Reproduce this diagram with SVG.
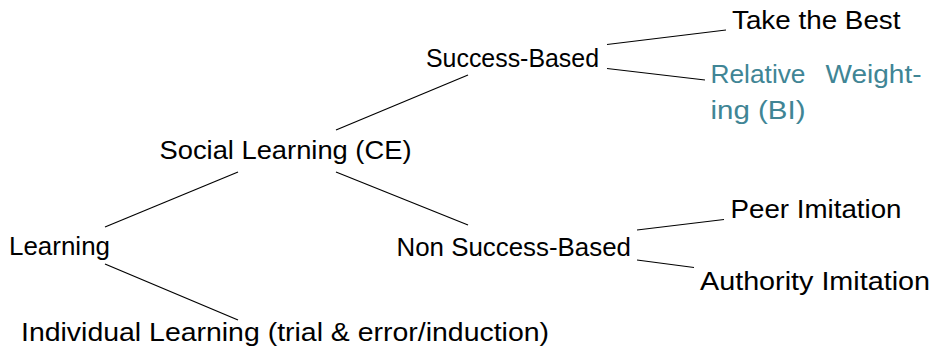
<svg xmlns="http://www.w3.org/2000/svg" width="936" height="353" viewBox="0 0 936 353">
<style>
text{font-family:"Liberation Sans",Arial,sans-serif;font-size:25px;fill:#000}
.hl{fill:#408595}
line{stroke:#000;stroke-width:1.2}
</style>
<rect width="936" height="353" fill="#fff"/>
<g id="connectors">
<line x1="105" y1="227" x2="238" y2="172"/>
<line x1="105" y1="264" x2="238" y2="320"/>
<line x1="336" y1="130" x2="468" y2="75"/>
<line x1="336" y1="172" x2="468" y2="225"/>
<line x1="607" y1="44.5" x2="726" y2="30"/>
<line x1="607" y1="68.5" x2="705" y2="80"/>
<line x1="637" y1="230" x2="724" y2="219.5"/>
<line x1="637" y1="260" x2="694" y2="267.5"/>
</g>
<g id="learning"><text x="9" y="255" textLength="101" lengthAdjust="spacingAndGlyphs">Learning</text></g>
<g id="social"><text x="159.5" y="158.5" textLength="252" lengthAdjust="spacingAndGlyphs">Social Learning (CE)</text></g>
<g id="individual"><text x="21" y="341" textLength="528" lengthAdjust="spacingAndGlyphs">Individual Learning (trial &amp; error/induction)</text></g>
<g id="success"><text x="426" y="67" textLength="173" lengthAdjust="spacingAndGlyphs">Success-Based</text></g>
<g id="nonsuccess"><text x="396.5" y="256" textLength="234.5" lengthAdjust="spacingAndGlyphs">Non Success-Based</text></g>
<g id="takebest"><text x="732" y="29" textLength="168.5" lengthAdjust="spacingAndGlyphs">Take the Best</text></g>
<g id="relative"><text class="hl" y="83"><tspan x="710.5" textLength="95" lengthAdjust="spacingAndGlyphs">Relative</tspan><tspan x="825.5" textLength="96" lengthAdjust="spacingAndGlyphs">Weight-</tspan></text><text class="hl" x="710.5" y="118.5" textLength="95" lengthAdjust="spacingAndGlyphs">ing (BI)</text></g>
<g id="peer"><text x="730.5" y="218" textLength="171" lengthAdjust="spacingAndGlyphs">Peer Imitation</text></g>
<g id="authority"><text x="700" y="290" textLength="230" lengthAdjust="spacingAndGlyphs">Authority Imitation</text></g>
</svg>
